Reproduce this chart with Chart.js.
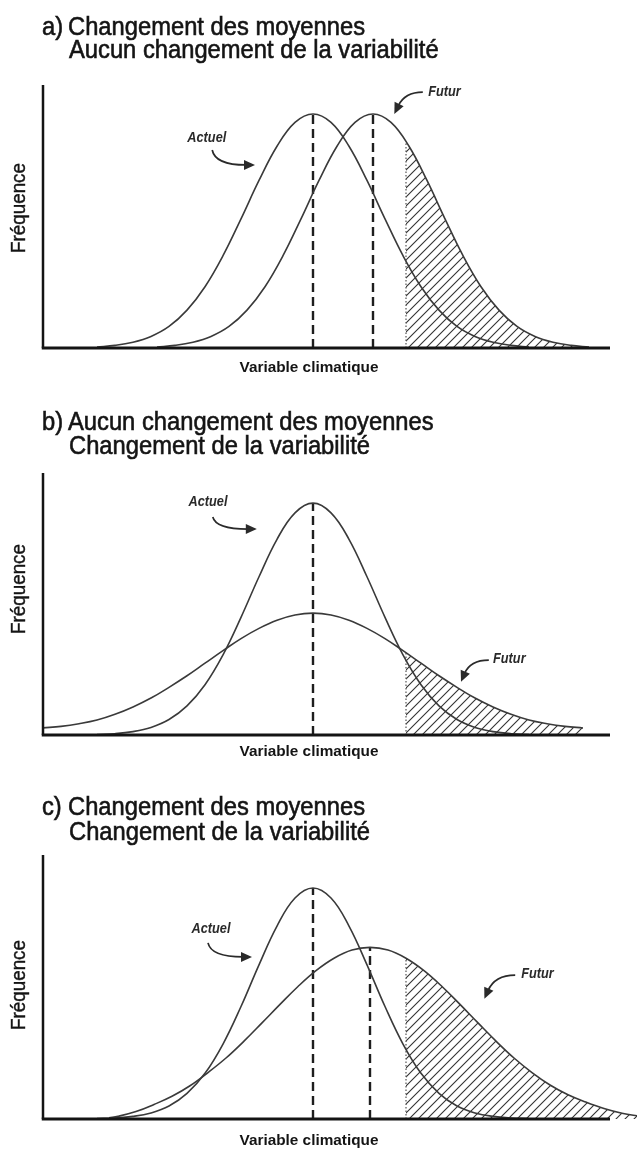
<!DOCTYPE html>
<html lang="fr">
<head>
  <meta charset="UTF-8">
  <title>Changement des moyennes et de la variabilité</title>
  <script src="https://cdn.jsdelivr.net/npm/chart.js"></script>
  <style>
    html, body { margin: 0; padding: 0; background: #fff; }
    canvas { display: block; }
  </style>
</head>
<body>
  <canvas id="chartA" width="637" height="383"></canvas>
  <canvas id="chartB" width="637" height="380"></canvas>
  <canvas id="chartC" width="637" height="386"></canvas>

  <script>
    // a) Changement des moyennes / aucun changement de la variabilité
    var xActuelA = [9, 12, 15, 18, 21, 24, 27, 30, 33, 36, 39, 42, 45, 48, 51, 54, 57, 60, 63, 66, 69, 72, 75, 78, 81];
    var yActuelA = [0.4, 1, 2.2, 4.4, 8.2, 14.4, 23.3, 35.1, 49.1, 63.7, 76.7, 85.8, 89, 85.8, 76.7, 63.7, 49.1, 35.1, 23.3, 14.4, 8.2, 4.4, 2.2, 1, 0.4];
    var xFuturA = [19, 22, 25, 28, 31, 34, 37, 40, 43, 46, 49, 52, 55, 58, 61, 64, 67, 70, 73, 76, 79, 82, 85, 88, 91];
    var yFuturA = [0.4, 1, 2.2, 4.4, 8.2, 14.4, 23.3, 35.1, 49.1, 63.7, 76.7, 85.8, 89, 85.8, 76.7, 63.7, 49.1, 35.1, 23.3, 14.4, 8.2, 4.4, 2.2, 1, 0.4];
    var meanA = [45, 55];
    var peakA = [89, 89];
    var hatchStartA = 60.5, hatchTopA = 78.5;

    // b) Aucun changement des moyennes / changement de la variabilité
    var xActuelB = [9, 12, 15, 18, 21, 24, 27, 30, 33, 36, 39, 42, 45, 48, 51, 54, 57, 60, 63, 66, 69, 72, 75, 78, 81];
    var yActuelB = [0.2, 0.5, 1.3, 2.9, 5.9, 11.1, 19.2, 30.6, 44.9, 60.4, 74.7, 84.8, 88.5, 84.8, 74.7, 60.4, 44.9, 30.6, 19.2, 11.1, 5.9, 2.9, 1.3, 0.5, 0.2];
    var xFuturB = [0, 3, 6, 9, 12, 15, 18, 21, 24, 27, 30, 33, 36, 39, 42, 45, 48, 51, 54, 57, 60, 63, 66, 69, 72, 75, 78, 81, 84, 87, 90];
    var yFuturB = [2.7, 3.3, 4.3, 5.7, 7.9, 10.7, 14.1, 18.2, 22.6, 27.4, 32.2, 36.8, 40.7, 43.8, 45.8, 46.5, 45.8, 43.8, 40.7, 36.8, 32.2, 27.4, 22.6, 18.2, 14.1, 10.7, 7.9, 5.7, 4.3, 3.3, 2.7];
    var meanB = [45];
    var peakB = [88.5];
    var hatchStartB = 60.5, hatchTopB = 31.5;

    // c) Changement des moyennes / changement de la variabilité
    var xActuelC = [9, 12, 15, 18, 21, 24, 27, 30, 33, 36, 39, 42, 45, 48, 51, 54, 57, 60, 63, 66, 69, 72, 75, 78, 81];
    var yActuelC = [0.15, 0.4, 1.0, 2.3, 4.9, 9.7, 17.3, 28.4, 42.6, 58.4, 73.1, 83.7, 87.5, 83.7, 73.1, 58.4, 42.6, 28.4, 17.3, 9.7, 4.9, 2.3, 1.0, 0.4, 0.15];
    var xFuturC = [11, 12.5, 15.5, 18.5, 21.5, 24.5, 27.5, 30.5, 33.5, 36.5, 39.5, 42.5, 45.5, 48.5, 51.5, 54.5, 57.5, 60.5, 63.5, 66.5, 69.5, 72.5, 75.5, 78.5, 81.5, 84.5, 87.5, 90.5, 93.5, 96.5, 99.5];
    var yFuturC = [0.5, 1.0, 2.8, 5.5, 8.6, 12.6, 17.6, 23.1, 29.5, 36.4, 43.4, 50.2, 56.2, 60.9, 64.0, 65, 64.0, 60.9, 56.2, 50.2, 43.4, 36.4, 29.5, 23.1, 17.6, 12.9, 9.2, 6.4, 4.0, 2.2, 1.0];
    var meanC = [45, 54.5];
    var peakC = [87.5, 65];
    var hatchStartC = 60.5, hatchTopC = 60.9;

    var AXIS_END = 94.5;
    var CURVE = '#3a3a3a';
    var INK = '#141414';

    var SANS = '"Liberation Sans", Arial, sans-serif';
    var TITLE_FONT = '26px ' + SANS;
    var NOTE_FONT = 'italic bold 14px ' + SANS;
    var YLAB_FONT = '21px ' + SANS;
    var XLAB_FONT = 'bold 15px ' + SANS;

    function pts(xs, ys) {
      return xs.map(function (x, i) { return { x: x, y: ys[i] }; });
    }

    function hatchPattern() {
      var c = document.createElement('canvas');
      c.width = 9; c.height = 9;
      var g = c.getContext('2d');
      g.strokeStyle = '#333';
      g.lineWidth = 1.1;
      g.beginPath();
      g.moveTo(0, 9); g.lineTo(9, 0);
      g.moveTo(-2, 2); g.lineTo(2, -2);
      g.moveTo(7, 11); g.lineTo(11, 7);
      g.stroke();
      return g.createPattern(c, 'repeat');
    }

    function drawScaled(ctx, text, x, y, sx, align, weight) {
      ctx.save();
      ctx.translate(x, y);
      ctx.scale(sx, 1);
      ctx.textAlign = align;
      ctx.fillText(text, 0, 0);
      if (weight) {
        ctx.lineWidth = weight;
        ctx.strokeText(text, 0, 0);
      }
      ctx.restore();
    }

    var decorPlugin = {
      id: 'decor',
      afterDatasetsDraw: function (chart, args, o) {
        var ctx = chart.ctx, xs = chart.scales.x, ys = chart.scales.y;
        var x0 = xs.getPixelForValue(0), y0 = ys.getPixelForValue(0);
        ctx.save();

        // axes
        ctx.strokeStyle = INK;
        ctx.lineWidth = 2.5;
        ctx.beginPath();
        ctx.moveTo(x0, ys.getPixelForValue(100));
        ctx.lineTo(x0, y0);
        ctx.stroke();
        ctx.lineWidth = 3;
        ctx.beginPath();
        ctx.moveTo(x0 - 1.25, y0);
        ctx.lineTo(xs.getPixelForValue(AXIS_END), y0);
        ctx.stroke();

        // notes with curved arrows
        ctx.fillStyle = '#2a2a2a';
        ctx.strokeStyle = '#2a2a2a';
        ctx.font = NOTE_FONT;
        ctx.textBaseline = 'middle';
        var nsx = 39 / ctx.measureText('Actuel').width;
        o.notes.forEach(function (n) {
          drawScaled(ctx, n.text, xs.getPixelForValue(n.at[0]), ys.getPixelForValue(n.at[1]), nsx, n.align);
          var s = [xs.getPixelForValue(n.arrow[0][0]), ys.getPixelForValue(n.arrow[0][1])];
          var c = [xs.getPixelForValue(n.arrow[1][0]), ys.getPixelForValue(n.arrow[1][1])];
          var e = [xs.getPixelForValue(n.arrow[2][0]), ys.getPixelForValue(n.arrow[2][1])];
          var ang = Math.atan2(e[1] - c[1], e[0] - c[0]);
          var back = [e[0] - 7 * Math.cos(ang), e[1] - 7 * Math.sin(ang)];
          ctx.lineWidth = 1.7;
          ctx.beginPath();
          ctx.moveTo(s[0], s[1]);
          ctx.quadraticCurveTo(c[0], c[1], back[0], back[1]);
          ctx.stroke();
          ctx.beginPath();
          ctx.moveTo(e[0] + 2 * Math.cos(ang), e[1] + 2 * Math.sin(ang));
          ctx.lineTo(back[0] - 2 * Math.cos(ang) + 5 * Math.sin(ang), back[1] - 2 * Math.sin(ang) - 5 * Math.cos(ang));
          ctx.lineTo(back[0] - 2 * Math.cos(ang) - 5 * Math.sin(ang), back[1] - 2 * Math.sin(ang) + 5 * Math.cos(ang));
          ctx.closePath();
          ctx.fill();
        });

        // titles
        ctx.fillStyle = INK;
        ctx.strokeStyle = INK;
        ctx.textBaseline = 'alphabetic';
        ctx.font = TITLE_FONT;
        var tsx = 297 / ctx.measureText('Changement des moyennes').width;
        drawScaled(ctx, o.tag, 42, o.titleY[0], tsx, 'left', 0.6);
        drawScaled(ctx, o.title[0], 68, o.titleY[0], tsx, 'left', 0.6);
        drawScaled(ctx, o.title[1], 69, o.titleY[1], tsx, 'left', 0.6);

        // axis titles
        ctx.textBaseline = 'middle';
        ctx.font = XLAB_FONT;
        var xsx = 139 / ctx.measureText('Variable climatique').width;
        drawScaled(ctx, 'Variable climatique', 309, o.xLabelY, xsx, 'center');

        ctx.font = YLAB_FONT;
        var ysx = 90 / ctx.measureText('Fréquence').width;
        ctx.save();
        ctx.translate(19, o.yLabelY);
        ctx.rotate(-Math.PI / 2);
        drawScaled(ctx, 'Fréquence', 0, 0, ysx, 'center', 0.4);
        ctx.restore();

        ctx.restore();
      }
    };

    function curve(data) {
      return { data: data, borderColor: CURVE, borderWidth: 1.6, tension: 0.4, fill: false };
    }
    function meanLine(x, top) {
      return { data: [{ x: x, y: 0 }, { x: x, y: top }], borderColor: '#1e1e1e', borderWidth: 2.4, borderDash: [9, 5], fill: false };
    }
    function hatch(xs, ys, start, top) {
      var d = [{ x: start, y: top }].concat(pts(xs, ys).filter(function (p) { return p.x > start; }));
      return { data: d, borderColor: 'rgba(0,0,0,0)', borderWidth: 1, tension: 0.4, fill: 'origin', backgroundColor: hatchPattern() };
    }
    function hatchEdge(start, top) {
      return { data: [{ x: start, y: 0 }, { x: start, y: top }], borderColor: '#555', borderWidth: 1.2, borderDash: [1.5, 2], fill: false };
    }

    function makeChart(id, datasets, pad, decor) {
      return new Chart(document.getElementById(id), {
        type: 'line',
        data: { datasets: datasets },
        options: {
          responsive: false,
          animation: false,
          devicePixelRatio: 1,
          layout: { padding: pad },
          elements: { point: { radius: 0 } },
          scales: {
            x: { type: 'linear', min: 0, max: 99, display: false },
            y: { min: 0, max: 100, display: false }
          },
          plugins: { legend: { display: false }, tooltip: { enabled: false }, decor: decor }
        },
        plugins: [decorPlugin]
      });
    }

    makeChart('chartA', [
      curve(pts(xActuelA, yActuelA)),
      curve(pts(xFuturA, yFuturA)),
      meanLine(meanA[0], peakA[0]),
      meanLine(meanA[1], peakA[1]),
      hatchEdge(hatchStartA, hatchTopA),
      hatch(xFuturA, yFuturA, hatchStartA, hatchTopA)
    ], { top: 85, bottom: 35, left: 43, right: 0 }, {
      tag: 'a)',
      title: ['Changement des moyennes', 'Aucun changement de la variabilité'],
      titleY: [35, 58],
      xLabelY: 368,
      yLabelY: 208,
      notes: [
        { text: 'Actuel', align: 'center', at: [27.3, 79.8], arrow: [[28.2, 75.3], [28.7, 69.6], [35, 69.6]] },
        { text: 'Futur', align: 'left', at: [64.2, 97.3], arrow: [[63.3, 97.3], [60.3, 97.3], [58.7, 89.7]] }
      ]
    });

    makeChart('chartB', [
      curve(pts(xActuelB, yActuelB)),
      curve(pts(xFuturB, yFuturB)),
      meanLine(meanB[0], peakB[0]),
      hatchEdge(hatchStartB, hatchTopB),
      hatch(xFuturB, yFuturB, hatchStartB, hatchTopB)
    ], { top: 90, bottom: 28, left: 43, right: 0 }, {
      tag: 'b)',
      title: ['Aucun changement des moyennes', 'Changement de la variabilité'],
      titleY: [47, 71],
      xLabelY: 369,
      yLabelY: 206,
      notes: [
        { text: 'Actuel', align: 'center', at: [27.5, 88.9], arrow: [[28.3, 83.2], [28.8, 78.6], [35.3, 78.6]] },
        { text: 'Futur', align: 'left', at: [75, 29], arrow: [[74.3, 28.6], [71.2, 28.6], [69.8, 21]] }
      ]
    });

    makeChart('chartC', [
      curve(pts(xActuelC, yActuelC)),
      curve(pts(xFuturC, yFuturC)),
      meanLine(meanC[0], peakC[0]),
      meanLine(meanC[1], peakC[1]),
      hatchEdge(hatchStartC, hatchTopC),
      hatch(xFuturC, yFuturC, hatchStartC, hatchTopC)
    ], { top: 92, bottom: 30, left: 43, right: 0 }, {
      tag: 'c)',
      title: ['Changement des moyennes', 'Changement de la variabilité'],
      titleY: [52, 77],
      xLabelY: 378,
      yLabelY: 222,
      notes: [
        { text: 'Actuel', align: 'center', at: [28, 72], arrow: [[27.5, 66.7], [28, 61.4], [34.5, 61.4]] },
        { text: 'Futur', align: 'left', at: [79.7, 54.9], arrow: [[78.7, 54.5], [75.3, 54.5], [73.7, 46.2]] }
      ]
    });
  </script>
</body>
</html>
